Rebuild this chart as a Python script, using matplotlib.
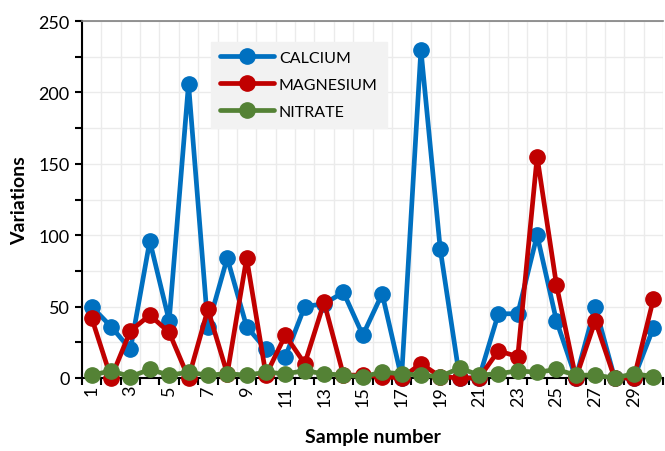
import matplotlib
matplotlib.use("Agg")
import matplotlib.pyplot as plt
from matplotlib.ticker import MultipleLocator, FixedLocator

plt.rcParams['font.family'] = ['Lato', 'DejaVu Sans']

samples = list(range(1, 31))
calcium = [50, 36, 20, 96, 40, 206, 36, 84, 36, 20, 15, 50, 52, 60, 30, 59, 0, 230, 90, 0,
           0, 45, 45, 100, 40, 0, 50, 0, 0, 35]
magnesium = [42, 0, 33, 44, 32, 0, 48, 3, 84, 2, 30, 10, 53, 2, 2, 1, 0, 10, 1, 0,
             0, 19, 15, 155, 65, 0, 40, 0, 0, 55]
nitrate = [2, 5, 1, 6, 2, 4, 2, 3, 2, 4, 3, 5, 3, 2, 1, 4, 3, 2, 1, 7,
           2, 3, 5, 4, 6, 2, 2, 0, 3, 1]
series_names = ["CALCIUM", "MAGNESIUM", "NITRATE"]
colors = ["#0070C0", "#C00000", "#548235"]

fig = plt.figure(figsize=(6.65, 4.52), dpi=100)
ax = fig.add_axes([82/665, 1-379/452, (663-82)/665, (379-22)/452])

for vals, name, c in zip([calcium, magnesium, nitrate], series_names, colors):
    ax.plot(samples, vals, color=c, lw=3.4, marker='o', ms=11, label=name,
            solid_capstyle='round', zorder=3, clip_on=False)

ax.set_xlim(0.5, 30.5)
ax.set_ylim(0, 250)
ax.yaxis.set_major_locator(MultipleLocator(50))
ax.yaxis.set_minor_locator(MultipleLocator(25))
ax.set_xticks(samples[::2])
ax.set_xticklabels([str(s) for s in samples[::2]], rotation=90)
ax.xaxis.set_minor_locator(FixedLocator([i + 0.5 for i in range(0, 31)]))

ax.tick_params(axis='y', which='both', direction='out', length=5, width=1.5, labelsize=13, pad=4)
ax.tick_params(axis='x', which='major', length=0, labelsize=13, pad=5)
ax.tick_params(axis='x', which='minor', direction='out', length=5, width=1.5)

ax.grid(True, which='minor', axis='both', color='#ebebeb', lw=1, zorder=0)
ax.grid(True, which='major', axis='y', color='#ebebeb', lw=1, zorder=0)

ax.spines['right'].set_visible(False)
ax.spines['top'].set_color('#808080')
ax.spines['top'].set_linewidth(1.2)
ax.spines['left'].set_linewidth(1.5)
ax.spines['bottom'].set_linewidth(1.5)

ax.set_ylabel("Variations", fontsize=14, fontweight='bold', labelpad=7)
ax.set_xlabel("Sample number", fontsize=14, fontweight='bold', labelpad=16)

leg = ax.legend(loc='upper left', bbox_to_anchor=((211-82)/581, 1-(43-22)/357),
                frameon=True, fancybox=False, fontsize=11.5, handlelength=3.4,
                borderpad=0.55, labelspacing=0.8, handletextpad=0.3, borderaxespad=0)
leg.get_frame().set_facecolor('#f2f2f2')
leg.get_frame().set_edgecolor('#f2f2f2')
leg.get_frame().set_alpha(1)

fig.savefig("out.png", dpi=100)
